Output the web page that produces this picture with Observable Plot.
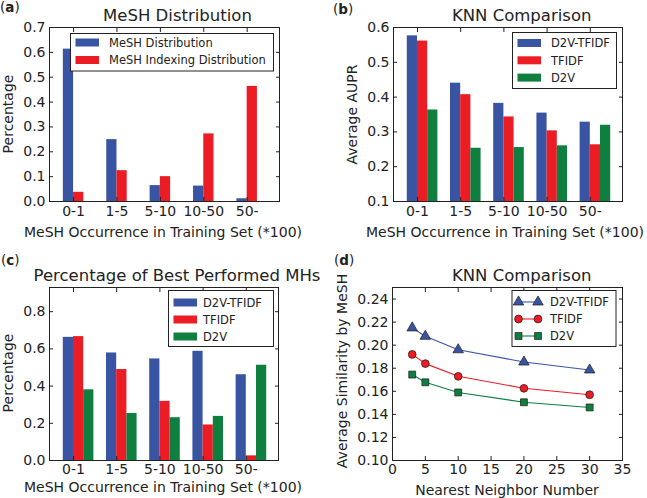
<!DOCTYPE html>
<html><head><meta charset="utf-8">
<script src="https://cdn.jsdelivr.net/npm/d3@7"></script>
<script src="https://cdn.jsdelivr.net/npm/@observablehq/plot@0.6"></script>
<style>
body{margin:0;background:#fff;}
#wrap{position:relative;width:647px;height:498px;overflow:hidden;background:#fff;}
#wrap > svg, #wrap > figure{position:absolute;margin:0;}
</style></head><body><div id="wrap"></div>
<script>
// ---------- data ----------
const categories = ["0-1", "1-5", "5-10", "10-50", "50-"];
const distSeries = ["MeSH Distribution", "MeSH Indexing Distribution"];
const meshDistribution = [0.613, 0.249, 0.064, 0.062, 0.011];
const meshIndexingDistribution = [0.037, 0.124, 0.100, 0.272, 0.463];
const methods = ["D2V-TFIDF", "TFIDF", "D2V"];
const auprD2vTfidf = [0.576, 0.440, 0.382, 0.354, 0.328];
const auprTfidf = [0.561, 0.407, 0.343, 0.303, 0.263];
const auprD2v = [0.363, 0.253, 0.255, 0.260, 0.319];
const bestD2vTfidf = [0.662, 0.578, 0.546, 0.587, 0.461];
const bestTfidf = [0.666, 0.489, 0.318, 0.191, 0.025];
const bestD2v = [0.380, 0.253, 0.230, 0.237, 0.512];
const neighbors = [3, 5, 10, 20, 30];
const simD2vTfidf = [0.215, 0.2077, 0.196, 0.1854, 0.1785];
const simTfidf = [0.192, 0.184, 0.173, 0.1626, 0.157];
const simD2v = [0.1745, 0.1678, 0.159, 0.1505, 0.146];
const ticksA = [0, 0.1, 0.2, 0.3, 0.4, 0.5, 0.6, 0.7];
const ticksB = [0.1, 0.2, 0.3, 0.4, 0.5, 0.6];
const ticksC = [0, 0.2, 0.4, 0.6, 0.8];
const ticksDy = [0.10, 0.12, 0.14, 0.16, 0.18, 0.20, 0.22, 0.24];
const ticksDx = [0, 5, 10, 15, 20, 25, 30, 35];

const colors = ["#3a54a4", "#ec1c24", "#0f7f40"];
const FONT = "DejaVu Sans";
const INK = "#222";
const BW = 0.236;
const xBarDomain = [-0.555, 4.745];

const wrap = document.getElementById("wrap");

function place(el, left, top) {
  el.style.left = left + "px";
  el.style.top = top + "px";
  wrap.appendChild(el);
}

const baseStyle = {fontFamily: FONT, fontSize: "14px", color: INK, background: "transparent", overflow: "visible"};

function frameAxes(xTicks, xFmt, yTicks, yFmt, xPad = 9) {
  return [
    Plot.frame({stroke: INK, strokeWidth: 1}),
    Plot.axisX(xTicks, {anchor: "bottom", tickSize: -4, tickPadding: xPad, tickFormat: xFmt, label: null, stroke: INK, fill: INK, fontSize: 14}),
    Plot.axisX(xTicks, {anchor: "top", tickSize: -4, tickFormat: () => "", label: null, stroke: INK}),
    Plot.axisY(yTicks, {anchor: "left", tickSize: -4, tickPadding: 8, tickFormat: yFmt, label: null, stroke: INK, fill: INK, fontSize: 14}),
    Plot.axisY(yTicks, {anchor: "right", tickSize: -4, tickFormat: () => "", label: null, stroke: INK})
  ];
}

function barPanel(names, valueLists, yDomain, yTicks, yFmt, dims, xPad) {
  const rows = valueLists.flatMap((vals, s) => vals.map((v, i) => ({cat: i, s, series: names[s], value: v})));
  return Plot.plot({
    ...dims,
    style: baseStyle,
    x: {domain: xBarDomain, axis: null},
    y: {domain: yDomain, axis: null},
    color: {domain: names, range: colors},
    marks: [
      Plot.rectY(rows, {
        x1: d => d.cat + (d.s - 1) * BW,
        x2: d => d.cat + d.s * BW,
        y1: yDomain[0],
        y2: "value",
        fill: "series"
      }),
      ...frameAxes(d3.range(categories.length), i => categories[i], yTicks, yFmt, xPad)
    ]
  });
}

// (a)
place(barPanel(distSeries, [meshDistribution, meshIndexingDistribution], [0, 0.7], ticksA, d => d.toFixed(1),
  {width: 323, height: 249, marginLeft: 49, marginRight: 44, marginTop: 27, marginBottom: 48}, 9), 0, 0);
// (b)
place(barPanel(methods, [auprD2vTfidf, auprTfidf, auprD2v], [0.1, 0.6], ticksB, d => d.toFixed(1),
  {width: 317, height: 249, marginLeft: 63, marginRight: 25, marginTop: 27, marginBottom: 48}, 9), 330, 0);
// (c)
place(barPanel(methods, [bestD2vTfidf, bestTfidf, bestD2v], [0, 0.93], ticksC, d => d.toFixed(1),
  {width: 323, height: 249, marginLeft: 49, marginRight: 45, marginTop: 38, marginBottom: 38}, 7.5), 0, 249);

// (d)
const simLists = [simD2vTfidf, simTfidf, simD2v];
const lineRows = simLists.flatMap((vals, s) => vals.map((v, i) => ({k: neighbors[i], v, series: methods[s]})));
const symbols = ["triangle", "circle", "square"];
place(Plot.plot({
  width: 317, height: 249, marginLeft: 62, marginRight: 25, marginTop: 38, marginBottom: 38,
  style: baseStyle,
  x: {domain: [0, 35], axis: null},
  y: {domain: [0.10, 0.25], axis: null},
  color: {domain: methods, range: colors},
  symbol: {domain: methods, range: symbols},
  marks: [
    Plot.line(lineRows, {x: "k", y: "v", stroke: "series", z: "series", strokeWidth: 1.1}),
    Plot.dot(lineRows, {x: "k", y: "v", fill: "series", symbol: "series", r: 3.9, stroke: "#1a1a1a", strokeWidth: 0.7}),
    ...frameAxes(ticksDx, d => String(d), ticksDy, d => d.toFixed(2), 7.5)
  ]
}), 330, 249);

// ---------- overlay text: titles, labels, legends ----------
const ov = d3.select(wrap).append("svg")
  .attr("width", 647).attr("height", 498)
  .style("left", "0px").style("top", "0px")
  .attr("font-family", FONT).attr("fill", INK);

function txt(x, y, s, size, anchor = "start", rotate = false) {
  const t = ov.append("text").attr("font-size", size).attr("text-anchor", anchor).text(s);
  if (rotate) t.attr("transform", `translate(${x},${y}) rotate(-90)`);
  else t.attr("x", x).attr("y", y);
  return t;
}
function panelLetter(x, y, letter) {
  const t = ov.append("text").attr("x", x).attr("y", y).attr("font-size", 13.5);
  t.append("tspan").text("(");
  t.append("tspan").attr("font-weight", "bold").text(letter);
  t.append("tspan").text(")");
}

panelLetter(0, 12, "a");
panelLetter(333, 13.5, "b");
panelLetter(1, 265, "c");
panelLetter(334, 265, "d");

txt(177.5, 20.7, "MeSH Distribution", 16.5, "middle");
txt(521.7, 21, "KNN Comparison", 16.5, "middle");
txt(177, 281, "Percentage of Best Performed MHs", 16.5, "middle");
txt(521.7, 280.5, "KNN Comparison", 16.5, "middle");

const xLab = "MeSH Occurrence in Training Set (*100)";
txt(163, 236.5, xLab, 14, "middle");
txt(505, 236.5, xLab, 14, "middle");
txt(163, 491.5, xLab, 14, "middle");
txt(507, 494.5, "Nearest Neighbor Number", 14, "middle");

txt(12.5, 114, "Percentage", 14, "middle", true);
txt(357, 114.5, "Average AUPR", 14, "middle", true);
txt(12.5, 373, "Percentage", 14, "middle", true);
txt(347, 371, "Average Similarity by MeSH", 14, "middle", true);

function barLegend(x, y, w, h, names, swX, swY0, swStep, textX) {
  ov.append("rect").attr("x", x).attr("y", y).attr("width", w).attr("height", h)
    .attr("fill", "#fff").attr("stroke", INK).attr("stroke-width", 1);
  names.forEach((n, i) => {
    const cy = swY0 + i * swStep;
    ov.append("rect").attr("x", swX).attr("y", cy - 4).attr("width", 23.5).attr("height", 8).attr("fill", colors[i]);
    txt(textX, cy + 4.3, n, 11.5);
  });
}
barLegend(70.5, 33.5, 203, 37.5, distSeries, 75.5, 42.5, 17.5, 109);
barLegend(512.5, 32.5, 104, 56, methods, 517.5, 43, 17.3, 551);
barLegend(168.5, 290.5, 105, 56, methods, 173.5, 302.5, 17, 203);

// legend (d)
ov.append("rect").attr("x", 512).attr("y", 290.5).attr("width", 104).attr("height", 56)
  .attr("fill", "#fff").attr("stroke", INK).attr("stroke-width", 1);
const symTypes = [d3.symbolTriangle, d3.symbolCircle, d3.symbolSquare];
methods.forEach((n, i) => {
  const cy = 302 + i * 17;
  ov.append("line").attr("x1", 518.5).attr("x2", 538).attr("y1", cy).attr("y2", cy)
    .attr("stroke", colors[i]).attr("stroke-width", 1.1);
  [518.5, 538].forEach(cx => {
    ov.append("path").attr("d", d3.symbol(symTypes[i], Math.PI * 3.9 * 3.9)())
      .attr("transform", `translate(${cx},${cy})`)
      .attr("fill", colors[i]).attr("stroke", "#1a1a1a").attr("stroke-width", 0.7);
  });
  txt(550, cy + 4.3, n, 11.5);
});
</script></body></html>
